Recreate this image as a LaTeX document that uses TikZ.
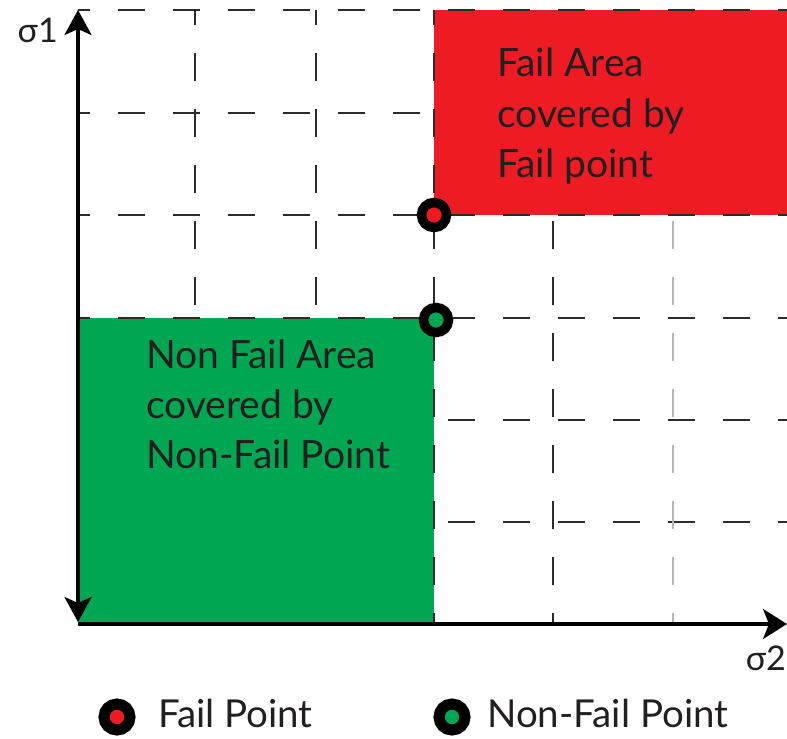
\documentclass[tikz,border=0pt]{standalone}
\usepackage{fontspec}
\setmainfont{Lato}
\usetikzlibrary{arrows.meta}
\definecolor{failred}{HTML}{ED1C24}
\definecolor{safegreen}{HTML}{00A651}
\definecolor{gridgray}{HTML}{2B2B2B}
\definecolor{gridlight}{HTML}{B5B5B5}
\definecolor{ink}{HTML}{231F20}
\tikzset{
  tipy/.tip={Stealth[length=25bp,width=27bp,inset=6bp]},
  tipx/.tip={Stealth[length=24bp,width=30bp,inset=6bp]}
}
\begin{document}
\begin{tikzpicture}[x=1bp,y=-1bp,
  hgrid/.style={draw=gridgray,line width=2.6bp,dash pattern=on 27bp off 28bp},
  vgrid/.style={draw=gridgray,line width=2.6bp,dash pattern=on 28bp off 28bp},
  axis/.style={draw=black,line width=3.2bp},
  pt/.style={circle,draw=black,line width=9.5bp,minimum size=25bp,inner sep=0pt},
  legpt/.style={circle,draw=black,line width=11bp,minimum size=26bp,inner sep=0pt},
  area/.style={anchor=base west,align=left,inner sep=0pt,text=ink,
    font=\fontsize{39bp}{50bp}\selectfont},
  legtext/.style={anchor=base west,inner sep=0pt,text=ink,
    font=\fontsize{38.5bp}{40bp}\selectfont},
  axlabel/.style={anchor=base east,inner sep=0pt,text=ink,
    font=\fontsize{34bp}{40bp}\selectfont}
]
\useasboundingbox (0,0) rectangle (787,739);

% covered regions
\fill[failred] (434,10) rectangle (787,215);
\fill[safegreen] (78,318) rectangle (434,624);

% horizontal grid lines (common dash phase measured from the sigma1 axis)
\draw[hgrid,dash phase=15bp] (78,10) -- (787,10);
\draw[hgrid,dash phase=15bp] (78,113) -- (434,113);
\draw[hgrid,dash phase=15bp] (78,215) -- (787,215);
\draw[hgrid,dash phase=15bp] (78,318) -- (787,318);
\draw[hgrid,dash phase=41bp] (434,420) -- (787,420);
\draw[hgrid,dash phase=41bp] (434,522) -- (787,522);

% vertical grid lines (common dash phase measured from the top edge)
\draw[vgrid,dash phase=13bp] (195,10) -- (195,318);
\draw[vgrid,dash phase=13bp] (316,10) -- (316,318);
\draw[vgrid,dash phase=13bp] (434,10) -- (434,624);
\draw[vgrid,dash phase=50bp] (553,215) -- (553,624);
\draw[vgrid,draw=gridlight,dash phase=50bp] (673,215) -- (673,624);

% axes
\coordinate (ytop) at (78,10);
\coordinate (ybot) at (78,622);
\coordinate (orig) at (78,624);
\coordinate (xend) at (787,624);
\draw[axis,tipy-tipy] (ybot) -- (ytop);
\draw[axis,-tipx] (orig) -- (xend);
\node[axlabel] (sig1) at (58,43) {σ1};
\node[axlabel] (sig2) at (786,670) {σ2};

% test points
\node[pt,fill=failred] (failpt) at (434,215) {};
\node[pt,fill=safegreen] (safept) at (436,320) {};

% region labels (anchored at the baseline of their last line)
\node[area] (failtxt) at (497,177) {Fail Area\\covered by\\Fail point};
\node[area] (safetxt) at (146,468) {Non Fail Area\\covered by\\Non-Fail Point};

% legend
\node[legpt,fill=failred] (legfail) at (117,717) {};
\node[legtext] (legfailtxt) at (158,727) {Fail Point};
\node[legpt,fill=safegreen] (legsafe) at (452,717) {};
\node[legtext] (legsafetxt) at (487,727) {Non-Fail Point};
\end{tikzpicture}
\end{document}
